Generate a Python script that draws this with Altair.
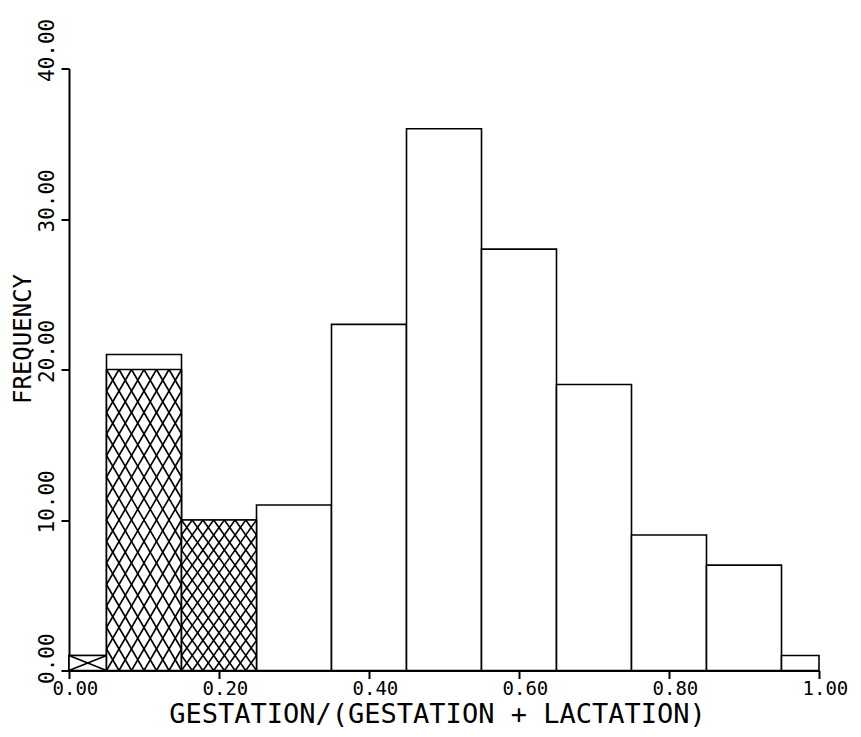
import altair as alt
import pandas as pd

# ---- data ----
bin_lo = [0.00, 0.05, 0.15, 0.25, 0.35, 0.45, 0.55, 0.65, 0.75, 0.85, 0.95]
bin_hi = [0.05, 0.15, 0.25, 0.35, 0.45, 0.55, 0.65, 0.75, 0.85, 0.95, 1.00]
total = [1, 21, 10, 11, 23, 36, 28, 19, 9, 7, 1]
hatched = [1, 20, 10, 0, 0, 0, 0, 0, 0, 0, 0]
x_ticks = [0.0, 0.2, 0.4, 0.6, 0.8, 1.0]
y_ticks = [0, 10, 20, 30, 40]

# ---- style: hatch lattice (diamonds across, diamonds up) per hatched bin ----
hatch_style = {0: (1, 1), 1: (6, 14), 2: (7, 10)}
FONT = "DejaVu Sans Mono"

bars = pd.DataFrame({"lo": bin_lo, "hi": bin_hi, "total": total, "hatched": hatched})

segs = []
for i, (lo, hi, h) in enumerate(zip(bin_lo, bin_hi, hatched)):
    if h <= 0 or i not in hatch_style:
        continue
    nx, ny = hatch_style[i]
    def pt(a, b):
        return lo + a / nx * (hi - lo), b / ny * h
    for t in range(-ny, nx + 1):
        b0, b1 = max(0, -t), min(ny, nx - t)
        if b0 < b1:
            xa, ya = pt(b0 + t, b0)
            xb, yb = pt(b1 + t, b1)
            segs.append({"x": xa, "y": ya, "x2": xb, "y2": yb})
    for t in range(0, nx + ny + 1):
        b0, b1 = max(0, t - nx), min(ny, t)
        if b0 < b1:
            xa, ya = pt(t - b0, b0)
            xb, yb = pt(t - b1, b1)
            segs.append({"x": xa, "y": ya, "x2": xb, "y2": yb})
hatch = pd.DataFrame(segs)

xscale = alt.Scale(domain=[0, 1], nice=False, zero=False)
yscale = alt.Scale(domain=[0, 40], nice=False)

xaxis = alt.Axis(
    values=x_ticks, format=".2f", title="GESTATION/(GESTATION + LACTATION)",
    grid=False, domainColor="black", domainWidth=2, tickColor="black", tickWidth=2,
    tickSize=8, labelFont=FONT, labelFontSize=19, labelColor="black",
    labelAlign="left", labelOffset=-17, labelBaseline="top", labelPadding=1,
    labelFlush=False, labelOverlap=False, labelBound=False,
    titleFont=FONT, titleFontSize=27, titleFontWeight="normal", titleColor="black",
    titleX=368, titleY=58, titleAlign="center", titleBaseline="bottom",
)
yaxis = alt.Axis(
    values=y_ticks, format=".2f", title="FREQUENCY",
    grid=False, domainColor="black", domainWidth=2, tickColor="black", tickWidth=2,
    tickSize=8, labelFont=FONT, labelFontSize=21, labelColor="black",
    labelAngle=270, labelAlign="left", labelBaseline="alphabetic", labelOffset=13,
    labelPadding=8, labelFlush=False, labelOverlap=False, labelBound=False,
    titleFont=FONT, titleFontSize=24, titleFontWeight="normal", titleColor="black",
    titleAngle=270, titleX=-39, titleY=270, titleAlign="center", titleBaseline="alphabetic",
)

base_bars = alt.Chart(bars).mark_rect(fill="white", stroke="black", strokeWidth=1.6).encode(
    x=alt.X("lo:Q", scale=xscale, axis=xaxis),
    x2="hi:Q",
    y=alt.Y("total:Q", scale=yscale, axis=yaxis),
    y2=alt.datum(0),
)

hatch_bars = alt.Chart(bars).transform_filter("datum.hatched > 0").mark_rect(
    fill="white", stroke="black", strokeWidth=1.6
).encode(
    x=alt.X("lo:Q", scale=xscale),
    x2="hi:Q",
    y=alt.Y("hatched:Q", scale=yscale),
    y2=alt.datum(0),
)

hatch_lines = alt.Chart(hatch).mark_rule(color="black", strokeWidth=1.6).encode(
    x=alt.X("x:Q", scale=xscale),
    x2="x2:Q",
    y=alt.Y("y:Q", scale=yscale),
    y2="y2:Q",
)

chart = alt.layer(base_bars, hatch_bars, hatch_lines).properties(
    width=750, height=602,
    autosize=alt.AutoSizeParams(type="none"),
    padding={"left": 61, "top": 60.5, "right": 34, "bottom": 58},
    background="white",
).configure_view(stroke=None)

chart.save("out.html", embed_options={"renderer": "svg", "actions": False})
